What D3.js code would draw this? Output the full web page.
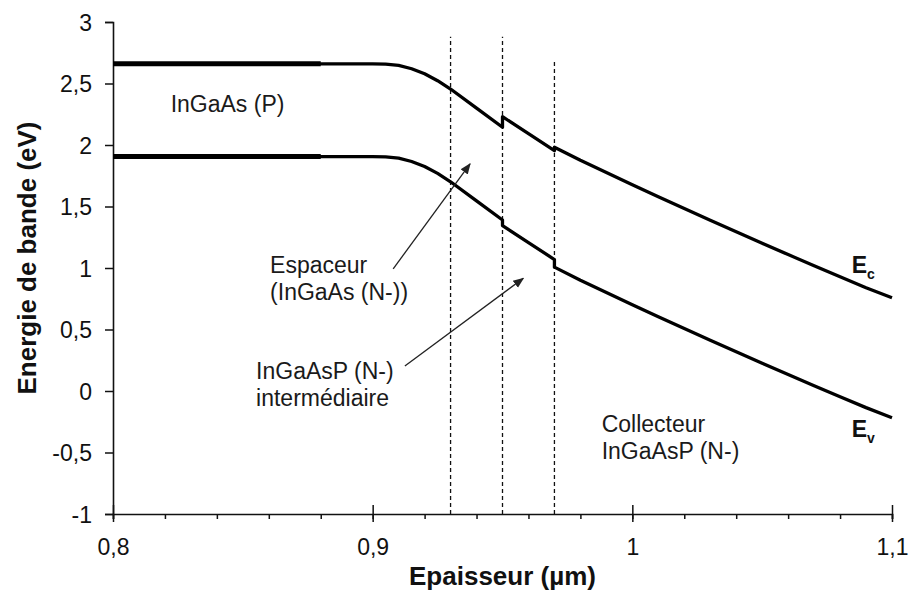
<!DOCTYPE html>
<html lang="fr">
<head>
<meta charset="UTF-8">
<title>Energie de bande</title>
<script src="https://d3js.org/d3.v7.min.js"></script>
<style>
  body { margin: 0; background: #fff; }
  svg { display: block; font-family: "Liberation Sans", Arial, sans-serif; }
</style>
</head>
<body>
<svg width="909" height="591"></svg>
<script>
// thickness (µm) and band edges (eV); duplicated x = heterojunction step
const thickness = [0.80, 0.85, 0.88, 0.90, 0.905, 0.91, 0.915, 0.92, 0.925, 0.93, 0.94, 0.95, 0.95, 0.96, 0.97, 0.97,
                   0.98, 0.99, 1.00, 1.01, 1.02, 1.03, 1.04, 1.05, 1.06, 1.07, 1.08, 1.09, 1.10];
const ecValues = [2.660, 2.660, 2.660, 2.659, 2.657, 2.647, 2.620, 2.579, 2.523, 2.455, 2.300, 2.144, 2.230, 2.092, 1.954, 1.982,
                  1.876, 1.776, 1.677, 1.579, 1.483, 1.388, 1.294, 1.201, 1.109, 1.018, 0.929, 0.840, 0.758];
const evValues = [1.906, 1.906, 1.906, 1.905, 1.903, 1.893, 1.866, 1.825, 1.769, 1.701, 1.546, 1.390, 1.345, 1.207, 1.069, 1.007,
                  0.901, 0.801, 0.702, 0.604, 0.508, 0.413, 0.319, 0.226, 0.134, 0.043, -0.046, -0.135, -0.217];

const interfaces = [0.93, 0.95, 0.97];
const interfaceTops = [2.88, 2.88, 2.675];
const xTicks = [0.8, 0.9, 1, 1.1];
const yTicks = [-1, -0.5, 0, 0.5, 1, 1.5, 2, 2.5, 3];

const svg = d3.select("svg");
const x = d3.scaleLinear().domain([0.8, 1.1]).range([113, 892]);
const y = d3.scaleLinear().domain([-1, 3]).range([514, 22]);
const fmt = d => String(d).replace(".", ",");
const ink = "#111";

// dashed interface lines
svg.selectAll("line.iface")
  .data(interfaces)
  .join("line")
  .attr("x1", d => x(d)).attr("x2", d => x(d))
  .attr("y1", y(-1)).attr("y2", (d, i) => y(interfaceTops[i]))
  .attr("stroke", ink).attr("stroke-width", 1.3)
  .attr("stroke-dasharray", "4,3");

// x axis
const xAxis = svg.append("g").attr("transform", `translate(0,${y(-1)})`);
xAxis.call(d3.axisBottom(x).ticks(15).tickSize(5).tickFormat(""));
xAxis.append("g").call(d3.axisBottom(x).tickValues(xTicks).tickSize(8).tickFormat(fmt))
  .call(g => g.selectAll(".tick line").attr("y1", -9))
  .call(g => g.select(".domain").remove());
xAxis.selectAll(".domain").attr("stroke", ink).attr("stroke-width", 1.6);
xAxis.selectAll(".tick line").attr("stroke", ink).attr("stroke-width", 1.5);
xAxis.selectAll(".tick text")
  .attr("fill", ink).attr("font-size", 23).attr("dy", 0).attr("y", 41)
  .attr("font-family", "Liberation Sans, Arial, sans-serif");

// y axis
const yAxis = svg.append("g").attr("transform", `translate(${x(0.8)},0)`);
yAxis.call(d3.axisLeft(y).tickValues(yTicks).tickSize(8).tickPadding(13).tickFormat(fmt));
yAxis.select(".domain").attr("stroke", ink).attr("stroke-width", 1.6);
yAxis.selectAll(".tick line").attr("stroke", ink).attr("stroke-width", 1.5);
yAxis.selectAll(".tick text")
  .attr("fill", ink).attr("font-size", 23).attr("dy", "0.36em")
  .attr("font-family", "Liberation Sans, Arial, sans-serif");

// band curves
const pts = vals => thickness.map((t, i) => [t, vals[i]]);
const line = d3.line().x(d => x(d[0])).y(d => y(d[1]));
[ecValues, evValues].forEach(vals => {
  svg.append("path").datum(pts(vals))
    .attr("fill", "none").attr("stroke", "#000")
    .attr("stroke-width", 3.3).attr("stroke-linejoin", "round")
    .attr("d", line);
  // the flat P region prints heavier in the original
  svg.append("path").datum(pts(vals).filter(d => d[0] <= 0.88))
    .attr("fill", "none").attr("stroke", "#000")
    .attr("stroke-width", 5).attr("d", line);
});

// arrows
svg.append("defs").append("marker")
  .attr("id", "head").attr("viewBox", "0 0 10 10")
  .attr("refX", 9).attr("refY", 5)
  .attr("markerWidth", 11).attr("markerHeight", 11)
  .attr("markerUnits", "userSpaceOnUse")
  .attr("orient", "auto")
  .append("path").attr("d", "M0,1 L10,5 L0,9 Z").attr("fill", "#222");

const arrows = [
  { from: [0.9079, 0.993], to: [0.9375, 1.846] },
  { from: [0.9124, 0.203], to: [0.958, 0.916] }
];
svg.selectAll("line.arrow")
  .data(arrows)
  .join("line")
  .attr("x1", d => x(d.from[0])).attr("y1", d => y(d.from[1]))
  .attr("x2", d => x(d.to[0])).attr("y2", d => y(d.to[1]))
  .attr("stroke", "#222").attr("stroke-width", 1.3)
  .attr("marker-end", "url(#head)");

// annotations
const notes = [
  { at: [0.8222, 2.266], lines: ["InGaAs (P)"] },
  { at: [0.8605, 0.962], lines: ["Espaceur", "(InGaAs (N-))"] },
  { at: [0.8551, 0.095], lines: ["InGaAsP (N-)", "intermédiaire"] },
  { at: [0.9882, -0.331], lines: ["Collecteur", "InGaAsP (N-)"] }
];
notes.forEach(n => {
  const t = svg.append("text")
    .attr("x", x(n.at[0])).attr("y", y(n.at[1]))
    .attr("font-size", 23).attr("fill", "#1a1a1a");
  n.lines.forEach((s, i) => t.append("tspan")
    .attr("x", x(n.at[0])).attr("dy", i ? 27 : 0).text(s));
});

// band labels
[["c", 0.957], ["v", -0.372]].forEach(([sub, v]) => {
  const t = svg.append("text")
    .attr("x", x(1.0845)).attr("y", y(v))
    .attr("font-size", 23).attr("font-weight", "bold").attr("fill", "#111");
  t.append("tspan").text("E");
  t.append("tspan").attr("font-size", 14).attr("dy", 6).text(sub);
});

// axis titles
svg.append("text")
  .attr("x", (x(0.8) + x(1.1)) / 2).attr("y", 585)
  .attr("text-anchor", "middle")
  .attr("font-size", 26).attr("font-weight", "bold").attr("fill", "#111")
  .text("Epaisseur (µm)");

svg.append("text")
  .attr("transform", `translate(36,${(y(-1) + y(3)) / 2 - 10}) rotate(-90)`)
  .attr("text-anchor", "middle")
  .attr("font-size", 26).attr("font-weight", "bold").attr("fill", "#111")
  .text("Energie de bande (eV)");
</script>
</body>
</html>
